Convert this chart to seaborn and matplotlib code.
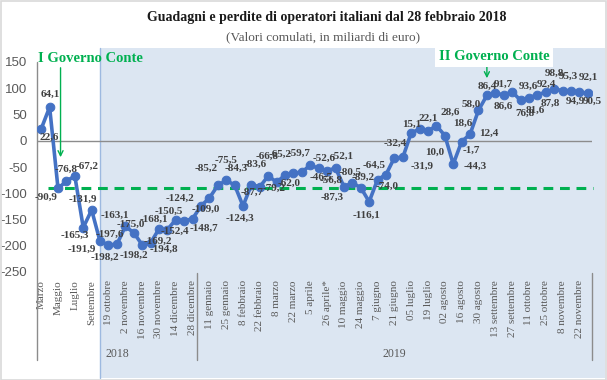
import matplotlib
matplotlib.use("Agg")
import matplotlib.pyplot as plt
import matplotlib.transforms as mtransforms
from matplotlib.patches import Rectangle
from matplotlib.lines import Line2D
import pandas as pd
import seaborn as sns

# ---------------- data ----------------
categories = [
    "Marzo", "Aprile", "Maggio", "Giugno", "Luglio", "Agosto", "Settembre",
    "12 ottobre", "19 ottobre", "26 ottobre", "2 novembre", "9 novembre", "16 novembre",
    "23 novembre", "30 novembre", "7 dicembre", "14 dicembre", "21 dicembre", "28 dicembre",
    "4 gennaio", "11 gennaio", "18 gennaio", "25 gennaio", "1 febbraio", "8 febbraio",
    "15 febbraio", "22 febbraio", "1 marzo", "8 marzo", "15 marzo", "22 marzo", "29 marzo",
    "5 aprile", "12 aprile", "26 aprile*", "3 maggio", "10 maggio", "17 maggio", "24 maggio",
    "31 maggio", "7 giugno", "14 giugno", "21 giugno", "28 giugno", "05 luglio", "12 luglio",
    "19 luglio", "26 luglio", "02 agosto", "09 agosto", "16 agosto", "23 agosto", "30 agosto",
    "06 settembre", "13 settembre", "20 settembre", "27 settembre", "04 ottobre", "11 ottobre",
    "18 ottobre", "25 ottobre", "1 novembre", "8 novembre", "15 novembre", "22 novembre",
    "29 novembre",
]
values = [
    22.6, 64.1, -90.9, -76.8, -67.2, -165.3, -131.9,
    -191.9, -198.2, -197.6, -163.1, -175.0, -198.2, -194.8, -168.1, -169.2, -150.5, -152.4, -148.7,
    -124.2, -109.0, -85.2, -75.5, -84.3, -124.3, -83.6, -87.7, -66.8, -79.2, -65.2, -62.0, -59.7,
    -46.5, -52.6, -56.8, -52.1, -87.3, -80.5, -89.2, -116.1, -74.0, -64.5, -32.4, -31.9,
    15.1, 22.1, 18.6, 28.6, 10.0, -44.3, -1.7, 12.4, 58.0,
    86.4, 91.7, 86.6, 93.6, 76.8, 81.6, 87.8, 92.4, 98.8, 95.3, 94.9, 92.1, 90.5,
]
tick_labels = [
    "Marzo", "Maggio", "Luglio", "Settembre", "19 ottobre", "2 novembre", "16 novembre",
    "30 novembre", "14 dicembre", "28 dicembre", "11 gennaio", "25 gennaio", "8 febbraio",
    "22 febbraio", "8 marzo", "22 marzo", "5 aprile", "26 aprile*", "10 maggio", "24 maggio",
    "7 giugno", "21 giugno", "05 luglio", "19 luglio", "02 agosto", "16 agosto", "30 agosto",
    "13 settembre", "27 settembre", "11 ottobre", "25 ottobre", "8 novembre", "22 novembre",
]
groups = ["2018", "2019"]
group_sizes = [19, 47]
gov_labels = ["I Governo Conte", "II Governo Conte"]
gov_threshold = -90.9

# label offsets (pixels, x right / y down) to mimic the reference placement
label_dx = [8, 1, -12, 0, 12, -8, -9, -18, -4, -7, -10, -3, -8, 13, -5, -9, -7, -9, 11,
            -21, -4, -12, 0, 2, -3, 4, -8, -1, -3, -5, -4, -3, 11, 5, 4, 7, -12, -2, 2, -3,
            10, -12, 1, 19, 0, 9, 35, 14, -10, 22, 10, 19, -7, 0, 8, 0, 16, 4, 6, 13, 1, 0,
            6, 4, 9, 5]
label_dy = [8, -13, 9, -12, -10, 8, -11, 8, 12, -10, -11, -8, 10, 6, -10, 12, -8, 11, 9,
            -8, 11, -17, -20, -17, 12, -20, 6, -20, 6, -21, 10, -19, 12, -10, 10, -12, 11, -11,
            -10, 14, 7, -9, -14, 9, -9, -11, -8, -13, 17, 2, 9, -1, -6, -9, -8, 11, -5, 13, 12,
            9, -8, -16, -14, 10, -15, 8]

# ---------------- style ----------------
sns.set_style("white")
plt.rcParams["font.family"] = ["Liberation Serif", "DejaVu Serif"]

W, H = 607, 380
fig = plt.figure(figsize=(W / 100, H / 100), dpi=100)
fig.patch.set_facecolor("white")

BLUE = "#4472C4"
GREEN = "#00B050"
GRAY = "#595959"
AXGRAY = "#8C8C8C"
SHADE = "#DCE6F2"

# shaded background for the weekly period
fig.patches.append(Rectangle((100 / W, 2 / H), (605 - 100) / W, (H - 48 - 2) / H,
                             transform=fig.transFigure, facecolor=SHADE,
                             edgecolor="none", zorder=-10))
fig.lines.append(Line2D([100 / W, 100 / W], [2 / H, (H - 48) / H], transform=fig.transFigure,
                        color="#9DB9E0", lw=1.0, zorder=-9))
# figure border
fig.patches.append(Rectangle((0.5 / W, 0.5 / H), 1 - 1.5 / W, 1 - 1.5 / H,
                             transform=fig.transFigure, facecolor="none",
                             edgecolor="#D9D9D9", lw=1.2, zorder=10))

ax = fig.add_axes([37 / W, 1 - 272 / H, 555 / W, 210 / H])
ax.set_facecolor("none")

df = pd.DataFrame({"pos": range(len(categories)), "cat": categories, "val": values})

n = len(categories)
ax.set_xlim(-0.5, n - 0.5)
ax.set_ylim(-250, 150)

# threshold dashed line (value at start of I Governo Conte)
ax.hlines(gov_threshold, 0.75, n - 0.4, colors=GREEN, linestyles=(0, (3.2, 2.2)),
          lw=2.2, zorder=2, clip_on=False)
ax.axhline(0, color=AXGRAY, lw=1.0, zorder=1)

sns.lineplot(data=df, x="pos", y="val", ax=ax, color=BLUE, lw=2.6, marker="o",
             markersize=6.2, markeredgecolor=BLUE, markerfacecolor=BLUE, zorder=3)

for i, v in enumerate(values):
    ax.annotate(f"{v:.1f}".replace(".", ","), (i, v),
                xytext=(label_dx[i], -label_dy[i]), textcoords="offset pixels",
                ha="center", va="center", fontsize=8, fontweight="bold",
                color="#404040", zorder=5, annotation_clip=False)

for s in ax.spines.values():
    s.set_visible(False)

ax.set_yticks(range(-250, 151, 50))
ax.set_yticklabels([str(t) for t in range(-250, 151, 50)], fontsize=9.5,
                   family="Liberation Sans", color=GRAY)
ax.set_xticks(range(0, n, 2))
ax.set_xticklabels(tick_labels, rotation=90, fontsize=8, color=GRAY)
ax.tick_params(axis="both", length=0)
ax.tick_params(axis="x", pad=6)
ax.tick_params(axis="y", pad=7)
ax.set_xlabel("")
ax.set_ylabel("")

# axis lines and category group separators
trans = mtransforms.blended_transform_factory(ax.transData, ax.transAxes)
bottom = (272 - 360) / 210
ax.plot([-0.5, -0.5], [1.0, bottom], transform=trans, color=AXGRAY, lw=1.0, clip_on=False)
start = -0.5
for g, size in zip(groups, group_sizes):
    end = start + size
    ax.plot([end, end], [(272 - 273) / 210, bottom], transform=trans, color=AXGRAY,
            lw=1.0, clip_on=False)
    ax.text((start + end) / 2, (272 - 354) / 210, g, transform=trans, ha="center",
            va="center", fontsize=8.5, color=GRAY)
    start = end

# titles
fig.text(327 / W, 1 - 17 / H, "Guadagni e perdite di operatori italiani dal 28 febbraio 2018",
         ha="center", va="center", fontsize=10, fontweight="bold", color="#1a1a1a")
fig.text(323 / W, 1 - 37 / H, "(Valori comulati, in miliardi di euro)", ha="center",
         va="center", fontsize=9.5, color=GRAY)

# government annotations
fig.text(90 / W, 1 - 58 / H, gov_labels[0], ha="center", va="center", fontsize=10.5,
         fontweight="bold", color=GREEN)
fig.text(494 / W, 1 - 57 / H, gov_labels[1], ha="center", va="center", fontsize=10.5,
         fontweight="bold", color=GREEN,
         bbox=dict(boxstyle="square,pad=0.25", facecolor="white", edgecolor="none"))

def ypx(p):
    return (140.75 - p) / 0.525

ax.annotate("", xy=(2.3, ypx(160)), xytext=(2.3, ypx(65)),
            arrowprops=dict(arrowstyle="->", color=GREEN, lw=1.0, mutation_scale=9),
            annotation_clip=False)
ax.annotate("", xy=(53.0, ypx(81)), xytext=(53.0, ypx(64)),
            arrowprops=dict(arrowstyle="->", color=GREEN, lw=1.0, mutation_scale=9),
            annotation_clip=False)

fig.savefig("out.png", dpi=100, facecolor="white")
